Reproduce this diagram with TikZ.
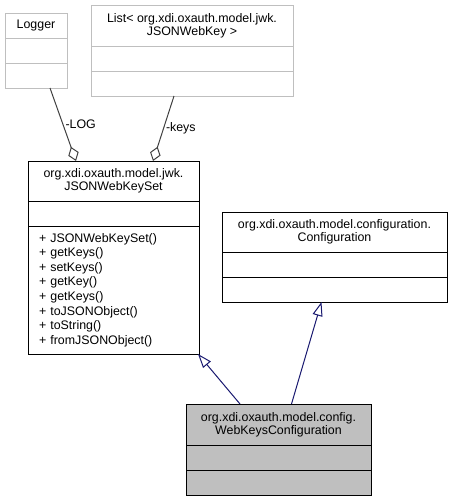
\documentclass[tikz,border=0pt]{standalone}
\usepackage{fontspec}
\setmainfont{Liberation Sans}
\usetikzlibrary{positioning,arrows.meta}
\definecolor{umlgrey}{HTML}{BFBFBF}
\definecolor{umlfill}{HTML}{BFBFBF}
\definecolor{edgegrey}{HTML}{404040}
\definecolor{inhblue}{HTML}{191970}
\tikzset{
  cls/.style={draw=black, line width=1pt, outer sep=0pt, inner sep=0pt, align=center,
    font=\fontsize{12.4}{13}\selectfont},
  comp/.style={draw=black, line width=1pt, outer sep=0pt, inner sep=0pt, minimum height=25pt},
  faint/.style={draw=umlgrey},
  ops/.style={comp, align=left, inner xsep=11pt, font=\fontsize{12.4}{14.6}\selectfont},
  agg/.style={draw=edgegrey, line width=1pt, -{Diamond[open, length=15pt, width=11pt]}},
  inh/.style={draw=inhblue, line width=1pt, -{Triangle[open, length=14pt, width=10pt]}},
  lbl/.style={anchor=west, inner sep=2pt, font=\fontsize{12.4}{13}\selectfont}
}
\begin{document}
\begin{tikzpicture}[x=1pt, y=-1pt]
  \useasboundingbox (0,0) rectangle (452,501);
  % Logger
  \node[cls, faint, minimum width=62pt, minimum height=25pt] (logger) at (36,25.5) {Logger};
  \node[comp, faint, minimum width=62pt, below=0pt of logger] (loggerattr) {};
  \node[comp, faint, minimum width=62pt, below=0pt of loggerattr] (loggerops) {};
  % List< JSONWebKey >
  \node[cls, faint, minimum width=202pt, minimum height=41pt] (list) at (192,25.5)
    {List< org.xdi.oxauth.model.jwk.\\JSONWebKey >};
  \node[comp, faint, minimum width=202pt, below=0pt of list] (listattr) {};
  \node[comp, faint, minimum width=202pt, below=0pt of listattr] (listops) {};
  % JSONWebKeySet
  \node[cls, minimum width=171pt, minimum height=40pt] (set) at (113.5,181)
    {org.xdi.oxauth.model.jwk.\\JSONWebKeySet};
  \node[comp, minimum width=171pt, below=0pt of set] (setattr) {};
  \node[ops, text width=149pt, minimum height=128pt, below=0pt of setattr] (setops)
    {+ JSONWebKeySet()\\+ getKeys()\\+ setKeys()\\+ getKey()\\+ getKeys()\\+ toJSONObject()\\+ toString()\\+ fromJSONObject()};
  % Configuration
  \node[cls, minimum width=225pt, minimum height=40pt] (config) at (334.5,232)
    {org.xdi.oxauth.model.configuration.\\Configuration};
  \node[comp, minimum width=225pt, below=0pt of config] (configattr) {};
  \node[comp, minimum width=225pt, below=0pt of configattr] (configops) {};
  % WebKeysConfiguration
  \node[cls, fill=umlfill, minimum width=185pt, minimum height=41pt] (web) at (278.5,424.5)
    {org.xdi.oxauth.model.config.\\WebKeysConfiguration};
  \node[comp, fill=umlfill, minimum width=185pt, below=0pt of web] (webattr) {};
  \node[comp, fill=umlfill, minimum width=185pt, below=0pt of webattr] (webops) {};
  % edges
  \draw[agg] ([xshift=14pt]loggerops.south) -- node[lbl, pos=0.5] {-LOG} ([xshift=-37.5pt]set.north);
  \draw[agg] ([xshift=-18pt]listops.south) -- node[lbl, pos=0.5] {-keys} ([xshift=39.5pt]set.north);
  \draw[inh] ([xshift=-38.5pt]web.north) -- ([xshift=-1pt]setops.south east);
  \draw[inh] ([xshift=13pt]web.north) -- ([xshift=-13pt]configops.south);
\end{tikzpicture}
\end{document}
